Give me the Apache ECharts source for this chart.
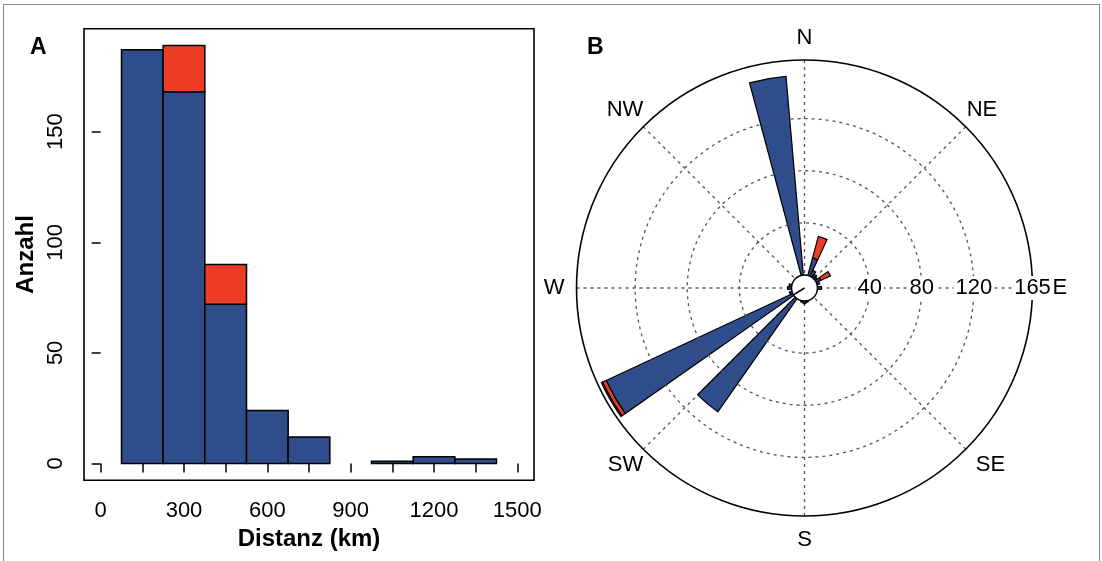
<!DOCTYPE html>
<html>
<head>
<meta charset="utf-8">
<script src="https://cdn.jsdelivr.net/npm/echarts@6/dist/echarts.min.js"></script>
<style>
  html, body { margin: 0; background: #fff; }
  #frame { position: absolute; left: 3px; top: 4px; width: 1095px; height: 600px; border: 1.5px solid #8a8a8a; }
  #main { position: absolute; left: 0; top: 0; width: 1102px; height: 561px; }
</style>
</head>
<body>
<div id="frame"></div>
<div id="main"></div>
<script>
// A: Distanz-Histogramm (150 km Klassen)
const binStart = [75, 225, 375, 525, 675, 975, 1125, 1275];
const binEnd = [225, 375, 525, 675, 825, 1125, 1275, 1425];
const countBlue = [187, 168, 72, 24, 12, 1, 3, 2];
const countRed = [0, 21, 18, 0, 0, 0, 0, 0];
const xTicks = [0, 150, 300, 450, 600, 750, 900, 1050, 1200, 1350, 1500];
const xLabels = [0, 300, 600, 900, 1200, 1500];
const yTicks = [0, 50, 100, 150];

// B: Richtungsrose (10 Grad Klassen, Mitte bei 0, 10, ... 350)
const dirBins = [0, 10, 20, 30, 40, 50, 60, 70, 80, 90, 100, 110, 120, 130, 140, 150, 160, 170,
  180, 190, 200, 210, 220, 230, 240, 250, 260, 270, 280, 290, 300, 310, 320, 330, 340, 350];
const roseBlue = [0, 0, 14, 5, 3, 2, 4, 2, 0, 3, 0, 0, 0, 0, 0, 0, 0, 1,
  2, 1, 0, 0, 106, 0, 158, 2, 0, 3, 2, 0, 0, 0, 0, 0, 0, 153];
const roseRed = [0, 0, 17, 0, 0, 0, 8, 0, 0, 0, 0, 0, 0, 0, 0, 0, 0, 0,
  0, 0, 0, 0, 0, 0, 3, 0, 0, 0, 0, 0, 0, 0, 0, 0, 0, 0];
const roseWhite = [0, 0, 0, 0, 0, 0, 0, 0, 0, 0, 0, 0, 0, 0, 0, 0, 0, 0,
  0, 0, 0, 0, 0, 0, 1, 0, 0, 0, 0, 0, 0, 0, 0, 0, 0, 0];
const ringTicks = [40, 80, 120];
const ringLabels = [40, 80, 120, 165];
const compass = { 0: 'N', 45: 'NE', 90: 'E', 135: 'SE', 180: 'S', 225: 'SW', 270: 'W', 315: 'NW' };
const meanBearing = 238;

const blue = '#2f4d8b';
const red = '#ee3c25';
const font = 'Liberation Sans, Arial, sans-serif';
const center = [804.5, 288];

const histData = (base, top) => binStart.map((s, i) => [s, binEnd[i], base[i], base[i] + top[i]]);
const zeroes = countBlue.map(() => 0);

function histItem(params, api) {
  const p0 = api.coord([api.value(0), api.value(3)]);
  const p1 = api.coord([api.value(1), api.value(2)]);
  if (api.value(3) <= api.value(2)) return null;
  return {
    type: 'rect',
    shape: { x: p0[0], y: p0[1], width: p1[0] - p0[0], height: p1[1] - p0[1] },
    style: { fill: api.visual('color'), stroke: '#000', lineWidth: 1.5 }
  };
}

// Himmelsrichtungen: Abstand vom Kreis je nach Ausrichtung
const compassText = { fontSize: 22, color: '#000', fontFamily: font };
const compassRich = {
  N: { ...compassText, padding: [0, 0, 11, 0] },
  NE: { ...compassText, padding: [0, 0, 6, 1] },
  E: { ...compassText, padding: [0, 0, 0, 20] },
  SE: { ...compassText, padding: [5, 0, 0, 10] },
  S: { ...compassText, padding: [13, 0, 0, 0] },
  SW: { ...compassText, padding: [5, 0, 0, 0] },
  W: { ...compassText, padding: [0, 12, 0, 0] },
  NW: { ...compassText, padding: [0, 0, 6, 0] }
};

const dashed = { color: '#555', width: 1.3, type: [3, 4] };
const chart = echarts.init(document.getElementById('main'));
chart.setOption({
  animation: false,
  textStyle: { fontFamily: font },
  title: [
    { text: 'A', left: 30, top: 36, padding: 0, textStyle: { fontSize: 23, fontWeight: 'bold', color: '#000', fontFamily: font } },
    { text: 'B', left: 587, top: 36, padding: 0, textStyle: { fontSize: 23, fontWeight: 'bold', color: '#000', fontFamily: font } }
  ],
  grid: {
    left: 84, top: 28.7, width: 450, height: 451.5,
    show: true, borderColor: '#000', borderWidth: 1.6, backgroundColor: 'transparent',
    outerBoundsMode: 'none'
  },
  xAxis: {
    type: 'value', min: -60, max: 1560,
    axisLine: { show: false }, splitLine: { show: false },
    axisTick: { customValues: xTicks, length: 9, lineStyle: { color: '#000', width: 1.5 } },
    axisLabel: { customValues: xLabels, formatter: v => String(v), margin: 20, fontSize: 22, color: '#000', fontFamily: font },
    name: 'Distanz (km)', nameLocation: 'middle', nameGap: 46,
    nameTextStyle: { fontSize: 24, fontWeight: 'bold', color: '#000', fontFamily: font }
  },
  yAxis: {
    type: 'value', min: -7.56, max: 196.56,
    axisLine: { show: false }, splitLine: { show: false },
    axisTick: { customValues: yTicks, length: 9, lineStyle: { color: '#000', width: 1.5 } },
    axisLabel: { customValues: yTicks, formatter: v => String(v), rotate: 90, margin: 17, fontSize: 22, color: '#000', fontFamily: font },
    name: 'Anzahl', nameLocation: 'middle', nameGap: 46, nameRotate: 90,
    nameTextStyle: { fontSize: 24, fontWeight: 'bold', color: '#000', fontFamily: font }
  },
  polar: [
    { center: center, radius: [13, 228] },
    { center: center, radius: [0, 228] }
  ],
  angleAxis: [
    {
      polarIndex: 0, type: 'category', data: dirBins, startAngle: 95, clockwise: true,
      axisLine: { show: false }, axisTick: { show: false }, axisLabel: { show: false }, splitLine: { show: false }
    },
    {
      polarIndex: 1, type: 'value', min: 0, max: 360, interval: 45, startAngle: 0, clockwise: true,
      axisLine: { lineStyle: { color: '#000', width: 1.6 } },
      axisTick: { show: false },
      splitLine: { show: true, lineStyle: dashed },
      axisLabel: {
        formatter: v => {
          if (v === 360) return '';
          const name = compass[(v + 90) % 360];
          return '{' + name + '|' + name + '}';
        },
        margin: 0, rich: compassRich,
        fontSize: 22, color: '#000', fontFamily: font
      }
    }
  ],
  radiusAxis: [
    { polarIndex: 0, type: 'value', min: 0, max: 165, show: false },
    {
      polarIndex: 1, type: 'value', min: -10, max: 165, z: 5,
      axisLine: { show: false },
      axisTick: { show: false, customValues: ringTicks },
      splitLine: { show: true, lineStyle: dashed },
      axisLabel: {
        customValues: ringLabels, margin: 0, align: 'center', verticalAlign: 'middle',
        backgroundColor: '#fff', padding: [1, 2], fontSize: 22, color: '#000', fontFamily: font
      }
    }
  ],
  series: [
    { type: 'custom', xAxisIndex: 0, yAxisIndex: 0, renderItem: histItem, data: histData(zeroes, countBlue), itemStyle: { color: blue }, silent: true },
    { type: 'custom', xAxisIndex: 0, yAxisIndex: 0, renderItem: histItem, data: histData(countBlue, countRed), itemStyle: { color: red }, silent: true },
    {
      type: 'bar', coordinateSystem: 'polar', polarIndex: 0, stack: 'rose', barCategoryGap: '0%',
      data: roseBlue.map(v => v || '-'), itemStyle: { color: blue, borderColor: '#000', borderWidth: 1.2 }, silent: true
    },
    {
      type: 'bar', coordinateSystem: 'polar', polarIndex: 0, stack: 'rose', barCategoryGap: '0%',
      data: roseRed.map(v => v || '-'), itemStyle: { color: red, borderColor: '#000', borderWidth: 1.2 }, silent: true
    },
    {
      type: 'bar', coordinateSystem: 'polar', polarIndex: 0, stack: 'rose', barCategoryGap: '0%',
      data: roseWhite.map(v => v || '-'), itemStyle: { color: '#fff', borderColor: '#000', borderWidth: 1.2 }, silent: true
    },
    {
      type: 'pie', center: center, radius: 13, silent: true, z: 6,
      label: { show: false }, labelLine: { show: false },
      data: [{ value: 1 }], itemStyle: { color: '#fff', borderColor: '#000', borderWidth: 1.5 }
    },
    {
      type: 'line', coordinateSystem: 'polar', polarIndex: 1, symbol: 'none', silent: true, z: 7,
      data: [[-10, (meanBearing + 270) % 360], [0, (meanBearing + 270) % 360]],
      lineStyle: { color: '#000', width: 1.5 }
    }
  ]
});
</script>
</body>
</html>
